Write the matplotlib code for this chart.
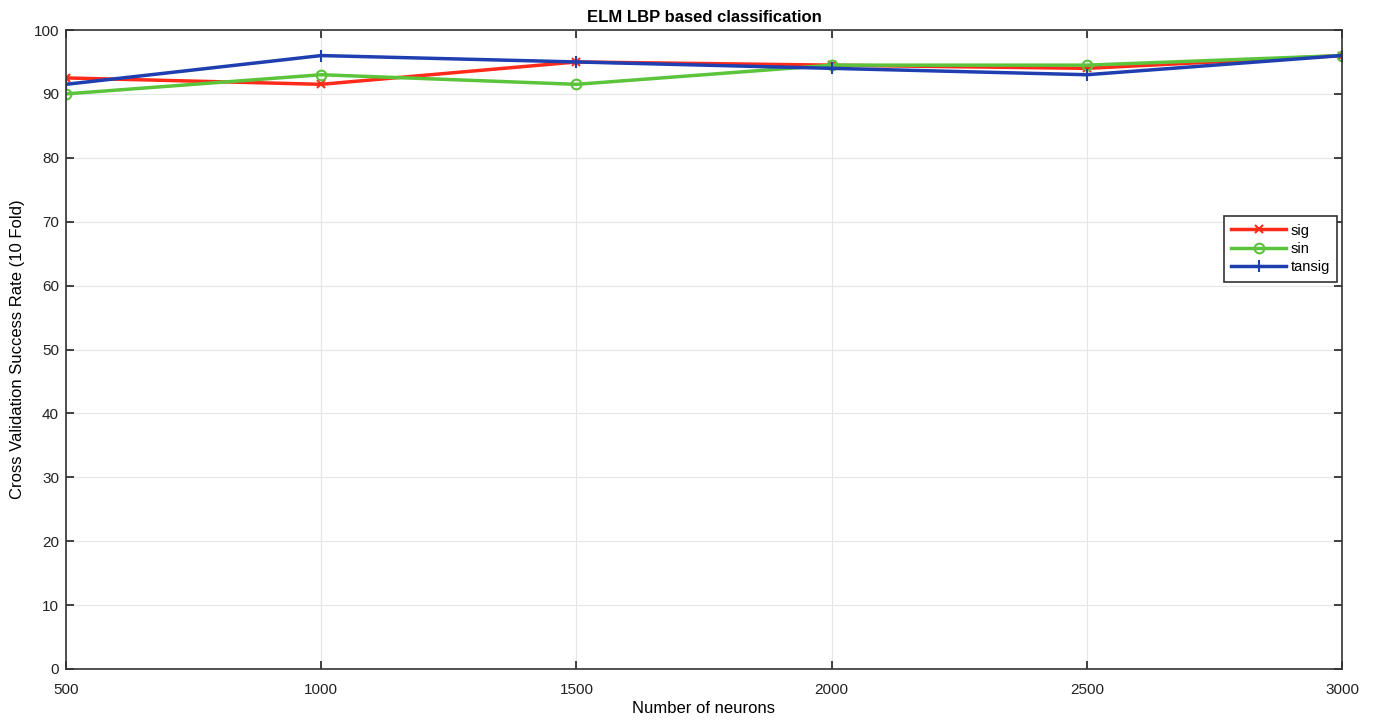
import matplotlib
matplotlib.use("Agg")
import matplotlib.pyplot as plt

plt.rcParams['font.family'] = ['Liberation Sans', 'DejaVu Sans']

neurons = [500, 1000, 1500, 2000, 2500, 3000]
sig = [92.5, 91.5, 95.0, 94.5, 94.0, 96.0]
sin = [90.0, 93.0, 91.5, 94.5, 94.5, 96.0]
tansig = [91.5, 96.0, 95.0, 94.0, 93.0, 96.0]

fig = plt.figure(figsize=(13.78, 7.22), dpi=100)
ax = fig.add_axes([66/1378, 1-669/722, (1342-66)/1378, (669-30)/722])

ax.plot(neurons, sig, color='#ff2a1a', lw=2.5, marker='x', ms=6, mew=1.5, label='sig')
ax.plot(neurons, sin, color='#5cc43a', lw=2.5, marker='o', ms=7, mfc='none', mew=1.5, label='sin')
ax.plot(neurons, tansig, color='#1f3fb0', lw=2.5, marker='+', ms=8, mew=1.5, label='tansig')

ax.set_xlim(500, 3000)
ax.set_ylim(0, 100)
ax.set_xticks(neurons)
ax.set_yticks(range(0, 101, 10))
ax.grid(True, color='#e6e6e6', lw=0.8)
ax.set_axisbelow(True)
ax.tick_params(direction='in', top=True, right=True, length=6, width=1.2, labelsize=11, colors='#222222')
ax.tick_params(axis='x', pad=10)
ax.tick_params(axis='y', pad=5)
for s in ax.spines.values():
    s.set_color('#333333')
    s.set_linewidth(1.2)

ax.set_title('ELM LBP based classification', fontsize=12, fontweight='bold', pad=6)
ax.set_xlabel('Number of neurons', fontsize=12, labelpad=3)
ax.set_ylabel('Cross Validation Success Rate (10 Fold)', fontsize=12, labelpad=6)

leg = ax.legend(loc='upper right', bbox_to_anchor=(1.002, 0.72), fontsize=10.5,
                fancybox=False, framealpha=1, edgecolor='#333333',
                handlelength=3.8, borderpad=0.5, labelspacing=0.3, handletextpad=0.3)
leg.get_frame().set_linewidth(1.2)

fig.savefig('out.png', dpi=100)
